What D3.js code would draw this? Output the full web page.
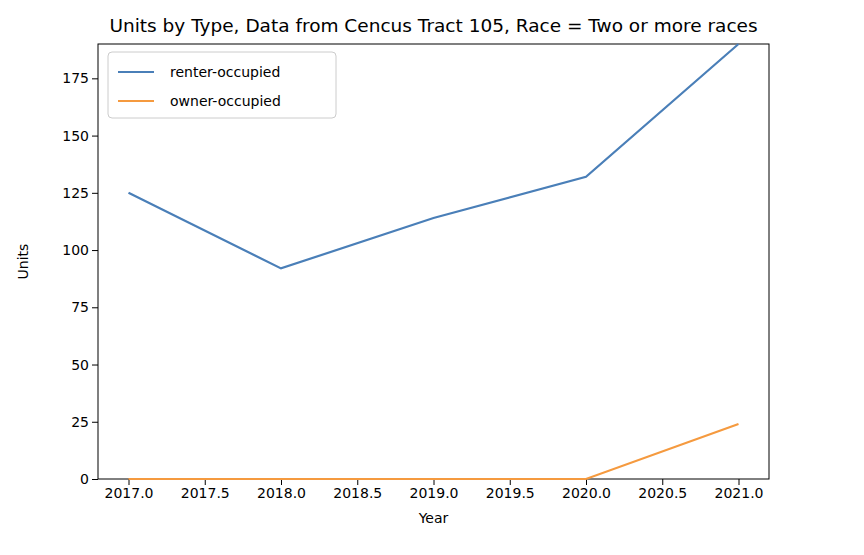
<!DOCTYPE html>
<html><head><meta charset="utf-8">
<script src="https://cdn.jsdelivr.net/npm/d3@7"></script>
<style>
body{margin:0;background:#fff;font-family:"DejaVu Sans",sans-serif;}
.axis text{font-size:14px;fill:#000;font-family:"DejaVu Sans",sans-serif;}
</style></head>
<body><div id="chart"></div>
<script>
const years = [2017, 2018, 2019, 2020, 2021];
const renter = [125, 92, 114, 132, 190];
const owner = [0, 0, 0, 0, 24];
const yTicks = [0, 25, 50, 75, 100, 125, 150, 175];
const xTicks = [2017, 2017.5, 2018, 2018.5, 2019, 2019.5, 2020, 2020.5, 2021];

const margin = {top: 44, right: 95, bottom: 76, left: 98};
const width = 864 - margin.left - margin.right,
      height = 555 - margin.top - margin.bottom;

const svg = d3.select("#chart").append("svg")
    .attr("width", 864).attr("height", 555)
    .append("g")
    .attr("transform", `translate(${margin.left},${margin.top})`);

const x = d3.scaleLinear().domain([2016.8, 2021.2]).range([0, width]);
const y = d3.scaleLinear().domain([0, 190]).range([height, 0]);

svg.append("g").attr("class", "axis")
    .attr("transform", `translate(0,${height})`)
    .call(d3.axisBottom(x).tickValues(xTicks).tickFormat(d3.format(".1f")).tickSizeOuter(0));
svg.append("g").attr("class", "axis")
    .call(d3.axisLeft(y).tickValues(yTicks).tickSizeOuter(0));
svg.selectAll(".axis .domain").remove();
svg.append("rect").attr("width", width).attr("height", height)
    .attr("fill", "none").attr("stroke", "#000").attr("stroke-width", 1);

const line = d3.line().x((d, i) => x(years[i])).y(d => y(d));
const series = [
  {name: "renter-occupied", values: renter, color: "#4a7fb8"},
  {name: "owner-occupied", values: owner, color: "#f59a3f"}
];
series.forEach(s => {
  svg.append("path").datum(s.values)
    .attr("fill", "none").attr("stroke", s.color).attr("stroke-width", 2.2)
    .attr("d", line);
});

svg.append("text").attr("x", width / 2).attr("y", -12)
    .attr("text-anchor", "middle").style("font-size", "18.5px")
    .text("Units by Type, Data from Cencus Tract 105, Race = Two or more races");
svg.append("text").attr("x", width / 2).attr("y", height + 44)
    .attr("text-anchor", "middle").style("font-size", "14px").text("Year");
svg.append("text").attr("transform", `translate(-70,${height / 2}) rotate(-90)`)
    .attr("text-anchor", "middle").style("font-size", "14px").text("Units");

const lg = svg.append("g").attr("transform", "translate(10,8)");
lg.append("rect").attr("width", 228).attr("height", 66).attr("rx", 4)
  .attr("fill", "#fff").attr("stroke", "#ccc");
series.forEach((s, i) => {
  const gy = 20 + i * 29;
  lg.append("line").attr("x1", 10).attr("x2", 46).attr("y1", gy).attr("y2", gy)
    .attr("stroke", s.color).attr("stroke-width", 2.2);
  lg.append("text").attr("x", 62).attr("y", gy + 5).style("font-size", "14px").text(s.name);
});
</script></body></html>
